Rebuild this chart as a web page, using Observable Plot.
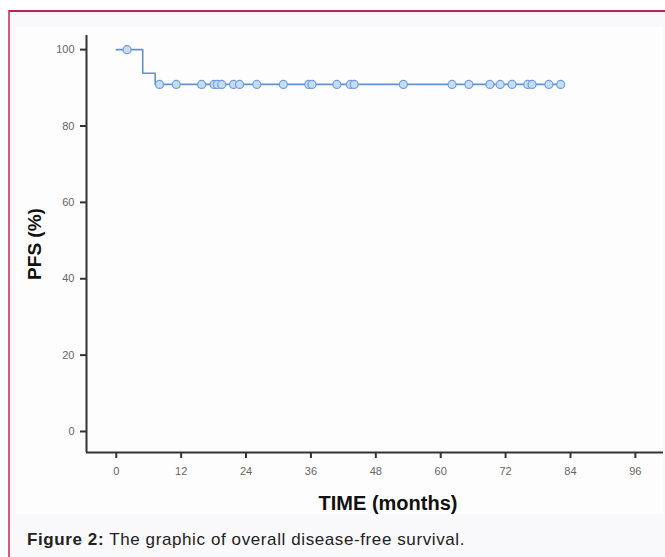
<!DOCTYPE html>
<html>
<head>
<meta charset="utf-8">
<script src="https://cdn.jsdelivr.net/npm/d3@7"></script>
<script src="https://cdn.jsdelivr.net/npm/@observablehq/plot@0.6"></script>
<style>
  html, body { margin: 0; padding: 0; background: #ffffff; }
  body { width: 665px; height: 557px; position: relative; overflow: hidden; font-family: "Liberation Sans", Arial, sans-serif; }
  #fig { position: absolute; left: 8px; top: 10px; width: 657px; height: 547px; background: #f9f8fa;
         border-top: 2px solid #b3294f; border-left: 2px solid #d25c80; box-sizing: border-box; }
  #panel { position: absolute; left: 16px; top: 27px; width: 647px; height: 487px; background: #fdfdfd; }
  #caption { position: absolute; left: 27px; top: 531px; font-size: 17px; line-height: 17px; letter-spacing: 0.6px; color: #222; white-space: nowrap; }
  #caption b { font-weight: bold; }
</style>
</head>
<body>
<div id="fig"></div>
<div id="panel"></div>
<div id="caption"><b>Figure 2:</b> The graphic of overall disease-free survival.</div>
<script>
// Kaplan–Meier step curve (time in months, PFS in %)
const stepTimes = [0, 4.9, 7.2, 82.2];
const stepValues = [100, 93.8, 90.9, 90.9];

// Censored observations
const censorTimes = [2.0, 8.0, 11.1, 15.8, 18.1, 18.7, 19.5, 21.7, 22.8, 26.0, 30.9, 35.6, 36.2,
  40.8, 43.3, 44.0, 53.1, 62.1, 65.2, 69.1, 71.0, 73.2, 76.1, 76.9, 80.0, 82.2];
const censorValues = [100, 90.9, 90.9, 90.9, 90.9, 90.9, 90.9, 90.9, 90.9, 90.9, 90.9, 90.9, 90.9,
  90.9, 90.9, 90.9, 90.9, 90.9, 90.9, 90.9, 90.9, 90.9, 90.9, 90.9, 90.9, 90.9];

const xTicks = [0, 12, 24, 36, 48, 60, 72, 84, 96];
const yTicks = [0, 20, 40, 60, 80, 100];
const xTitle = "TIME (months)";
const yTitle = "PFS (%)";

const xDomain = [-5.5, 101.2];
const yDomain = [-5.5, 103.7];

const curve = stepTimes.map((t, i) => ({t, s: stepValues[i]}));
const censored = censorTimes.map((t, i) => ({t, s: censorValues[i]}));

const chart = Plot.plot({
  width: 647,
  height: 487,
  marginLeft: 70,
  marginRight: 0,
  marginTop: 8,
  marginBottom: 62,
  style: {background: "transparent", fontFamily: "Liberation Sans, Arial, sans-serif", overflow: "visible"},
  x: {domain: xDomain},
  y: {domain: yDomain},
  marks: [
    Plot.axisX({ticks: xTicks, tickSize: 6, tickPadding: 9, fontSize: 11, fill: "#666", stroke: "#333", strokeWidth: 2, label: null}),
    Plot.axisY({ticks: yTicks, tickSize: 6, tickPadding: 6, fontSize: 11, fill: "#666", stroke: "#333", strokeWidth: 2, label: null}),
    Plot.ruleX([xDomain[0]], {stroke: "#333", strokeWidth: 2}),
    Plot.ruleY([yDomain[0]], {stroke: "#333", strokeWidth: 2}),
    Plot.line(curve, {x: "t", y: "s", curve: "step-after", stroke: "#5f92d8", strokeWidth: 1.6}),
    Plot.dot(censored, {x: "t", y: "s", r: 4, fill: "#c9dbf2", stroke: "#6e9edb", strokeWidth: 1.2}),
    Plot.text([xTitle], {frameAnchor: "bottom", text: d => d, textAnchor: "middle", dx: 13, dy: 57, lineAnchor: "bottom", fontSize: 20, fontWeight: "bold", fill: "#111"}),
    Plot.text([yTitle], {frameAnchor: "left", text: d => d, textAnchor: "middle", rotate: -90, dx: -46, lineAnchor: "bottom", fontSize: 19, fontWeight: "bold", fill: "#111"})
  ]
});
document.getElementById("panel").appendChild(chart);
</script>
</body>
</html>
